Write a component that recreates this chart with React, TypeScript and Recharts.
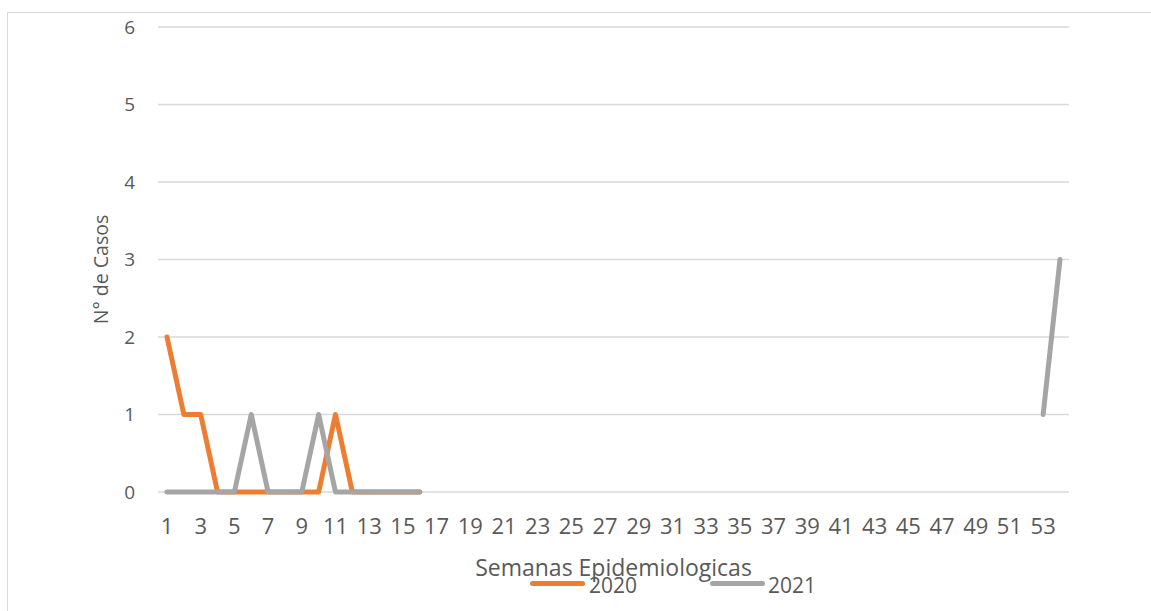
import React from 'react';
import { LineChart, Line, XAxis, YAxis, CartesianGrid, Legend } from 'recharts';

const weeks: number[] = Array.from({ length: 54 }, (_, i) => i + 1);
const cases2020: (number | null)[] = [2, 1, 1, 0, 0, 0, 0, 0, 0, 0, 1, 0, 0, 0, 0, 0];
const cases2021: (number | null)[] = [0, 0, 0, 0, 0, 1, 0, 0, 0, 1, 0, 0, 0, 0, 0, 0];
const cases2021Tail: { week: number; value: number }[] = [
  { week: 53, value: 1 },
  { week: 54, value: 3 },
];
const yTicks = [0, 1, 2, 3, 4, 5, 6];

const data = weeks.map((w, i) => {
  const tail = cases2021Tail.find((t) => t.week === w);
  return {
    week: String(w),
    y2020: i < cases2020.length ? cases2020[i] : null,
    y2021: i < cases2021.length ? cases2021[i] : tail ? tail.value : null,
  };
});

const FONT = '"Open Sans", sans-serif';
const TXT = '#595959';
const ORANGE = '#ED7D31';
const GRAY = '#A5A5A5';

const renderLegend = () => (
  <div style={{ position: 'relative', width: 300, height: 30, fontFamily: FONT, fontSize: 21, color: TXT }}>
    <div style={{ position: 'absolute', left: 0, top: 10, width: 55, height: 5, borderRadius: 3, background: ORANGE }} />
    <div style={{ position: 'absolute', left: 59, top: 0, lineHeight: '28px' }}>2020</div>
    <div style={{ position: 'absolute', left: 180, top: 10, width: 55, height: 5, borderRadius: 3, background: GRAY }} />
    <div style={{ position: 'absolute', left: 238, top: 0, lineHeight: '28px' }}>2021</div>
  </div>
);

const YTitle = (props: any) => {
  const vb = props.viewBox || { x: 0, y: 0, width: 0, height: 0 };
  const cx = vb.x + 12;
  const cy = vb.y + vb.height / 2 + 10;
  return (
    <text
      x={cx}
      y={cy}
      transform={`rotate(-90 ${cx} ${cy})`}
      textAnchor="middle"
      dominantBaseline="central"
      fill={TXT}
      fontSize={19.5}
      fontFamily={FONT}
    >
      N° de Casos
    </text>
  );
};

export default function App() {
  return (
    <div style={{ position: 'absolute', left: 0, top: 0, width: 1151, height: 611, background: '#fff', overflow: 'hidden' }}>
      <div style={{ position: 'absolute', left: 7, top: 12, width: 1160, height: 620, border: '1px solid #d9d9d9', boxSizing: 'border-box' }} />
      <LineChart width={1151} height={611} data={data} margin={{ top: 27, right: 82, bottom: 35, left: 88 }}>
        <CartesianGrid vertical={false} stroke="#d9d9d9" strokeWidth={1.3} />
        <XAxis
          dataKey="week"
          interval={1}
          height={84}
          padding={{ left: 9, right: 9 }}
          axisLine={false}
          tickLine={false}
          tickSize={0}
          tickMargin={26}
          tick={{ fill: TXT, fontSize: 22, fontFamily: FONT }}
          label={{ value: 'Semanas Epidemiologicas', position: 'insideBottom', offset: 0, fill: TXT, fontSize: 23, fontFamily: FONT }}
        />
        <YAxis
          width={70}
          domain={[0, 6]}
          ticks={yTicks}
          axisLine={false}
          tickLine={false}
          tickSize={0}
          tickMargin={23}
          tick={{ fill: TXT, fontSize: 19, fontFamily: FONT }}
          label={<YTitle />}
        />
        <Legend
          layout="horizontal"
          verticalAlign="middle"
          align="center"
          content={renderLegend}
          wrapperStyle={{ left: 530, top: 571, width: 300, height: 30 }}
        />
        <Line type="linear" dataKey="y2020" name="2020" stroke={ORANGE} strokeWidth={5} dot={false} activeDot={false} strokeLinecap="round" strokeLinejoin="round" isAnimationActive={false} />
        <Line type="linear" dataKey="y2021" name="2021" stroke={GRAY} strokeWidth={5} dot={false} activeDot={false} strokeLinecap="round" strokeLinejoin="round" isAnimationActive={false} />
      </LineChart>
    </div>
  );
}
